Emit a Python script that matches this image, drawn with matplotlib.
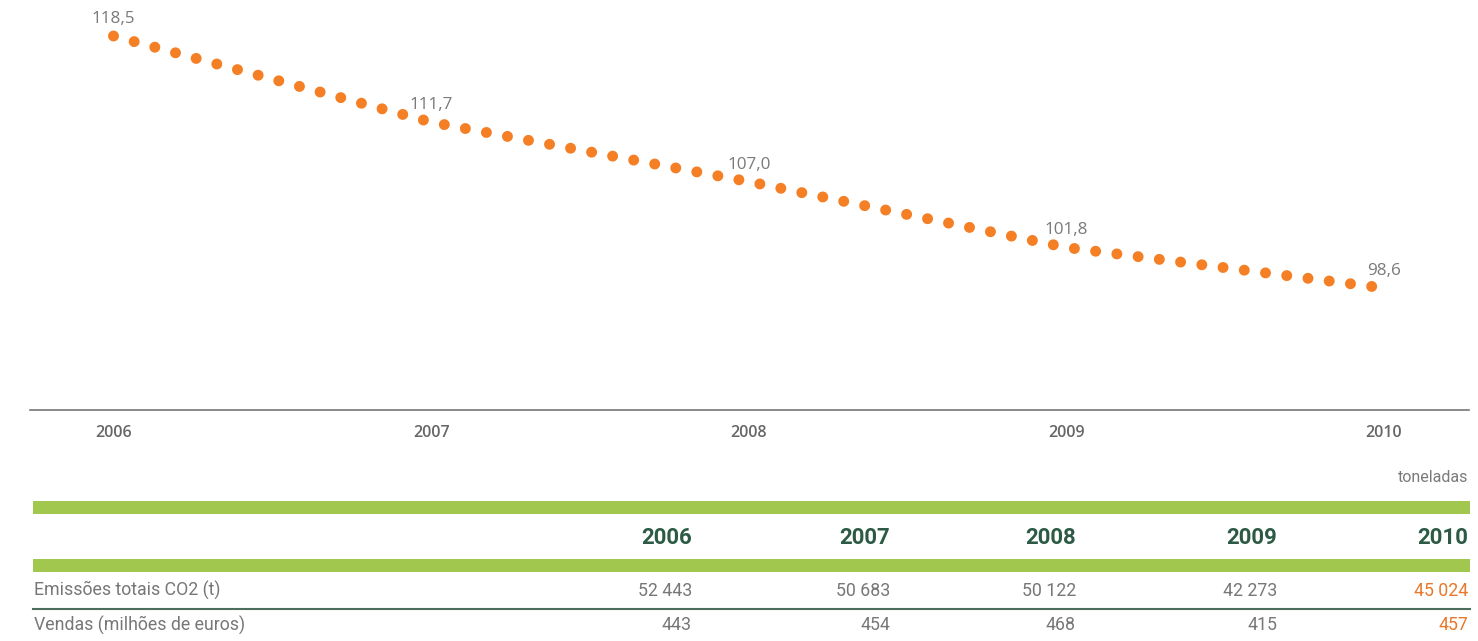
import matplotlib
matplotlib.use("Agg")
import matplotlib.pyplot as plt
from matplotlib.patches import Rectangle
from matplotlib.lines import Line2D

# ---------------- data ----------------
years = [2006, 2007, 2008, 2009, 2010]
intensity = [118.5, 111.7, 107.0, 101.8, 98.6]
intensity_labels = ["118,5", "111,7", "107,0", "101,8", "98,6"]

table_years = ["2006", "2007", "2008", "2009", "2010"]
row_names = ["Emissões totais CO2 (t)", "Vendas (milhões de euros)"]
emissions = ["52 443", "50 683", "50 122", "42 273", "45 024"]
sales = ["443", "454", "468", "415", "457"]
unit_label = "toneladas"

# ---------------- style ----------------
ORANGE = "#F47F24"
ORANGE_TXT = "#E8782A"
GREEN = "#A1C74F"
DKGREEN = "#2C5A45"
GRAY = "#7a7a7a"
ROWGRAY = "#777777"

W, H = 1478, 641
fig = plt.figure(figsize=(W / 100, H / 100), dpi=100)


def fx(px):
    return px / W


def fy(py):
    return 1 - py / H


# chart axes: spans x 30..1469 px, y 0..410 px
ax_left, ax_right, ax_bottom = 30, 1469, 410
ax = fig.add_axes([fx(ax_left), fy(ax_bottom), (ax_right - ax_left) / W, ax_bottom / H])

# x scale: first year at px 113.5, spacing 317.6 px
x0_px, step_px = 113.5, 317.6
xmin = years[0] - (x0_px - ax_left) / step_px
xmax = xmin + (ax_right - ax_left) / step_px
ax.set_xlim(xmin, xmax)
# y scale: 118.5 -> 36 px, 98.6 -> 288 px
ppu = (288 - 36) / (118.5 - 98.6)
ytop = 118.5 + 36 / ppu
ybot = 118.5 - (ax_bottom - 36) / ppu
ax.set_ylim(ybot, ytop)

line, = ax.plot(years, intensity, color=ORANGE, lw=7.9)
line.set_dash_capstyle("round")
line.set_linestyle((0, (0.001, 1.95)))

for x, v, lab in zip(years, intensity, intensity_labels):
    ax.annotate(lab, (x, v), xytext=(0, 12.3), textcoords="offset points",
                ha="center", va="center", fontsize=12.3, color=GRAY,
                family=["Open Sans", "DejaVu Sans"])

for s in ["top", "right", "left"]:
    ax.spines[s].set_visible(False)
ax.spines["bottom"].set_color("#777777")
ax.spines["bottom"].set_linewidth(1.2)
ax.set_yticks([])
ax.set_xticks(years)
ax.set_xticklabels([str(y) for y in years], fontsize=11.5, color="#666666",
                   fontweight="semibold", family=["Open Sans", "DejaVu Sans"])
ax.tick_params(axis="x", length=0, pad=10.5)
ax.patch.set_alpha(0)

# ---------------- table ----------------
fig.text(fx(1468), fy(478), unit_label, ha="right", va="center", fontsize=11.5,
         color="#7a7a7a", family=["Roboto", "DejaVu Sans"])

for top, bottom in [(501, 514), (559, 572)]:
    fig.add_artist(Rectangle((fx(33), fy(bottom)), fx(1470) - fx(33), fy(top) - fy(bottom),
                             transform=fig.transFigure, color=GREEN, lw=0))

fig.add_artist(Line2D([fx(33), fx(1470)], [fy(608.5), fy(608.5)], transform=fig.transFigure,
                      color="#4d6d5f", lw=1.5))

col_right = [692, 890, 1076, 1277, 1468]
for xr, yl in zip(col_right, table_years):
    fig.text(fx(xr), fy(538), yl, ha="right", va="center", fontsize=16,
             fontweight="bold", color=DKGREEN, family=["Roboto", "DejaVu Sans"])

row_y = [590.5, 625]
for ry, name in zip(row_y, row_names):
    fig.text(fx(34), fy(ry), name, ha="left", va="center", fontsize=12.8,
             color=ROWGRAY, family=["Roboto", "DejaVu Sans"])

for ri, vals in enumerate([emissions, sales]):
    for ci, (xr, v) in enumerate(zip(col_right, vals)):
        last = ci == len(vals) - 1
        fig.text(fx(xr), fy(row_y[ri]), v, ha="right", va="center", fontsize=12.8,
                 color=ORANGE_TXT if last else ROWGRAY,
                 family=["Roboto", "DejaVu Sans"])

fig.savefig("out.png", dpi=100, facecolor="white")
